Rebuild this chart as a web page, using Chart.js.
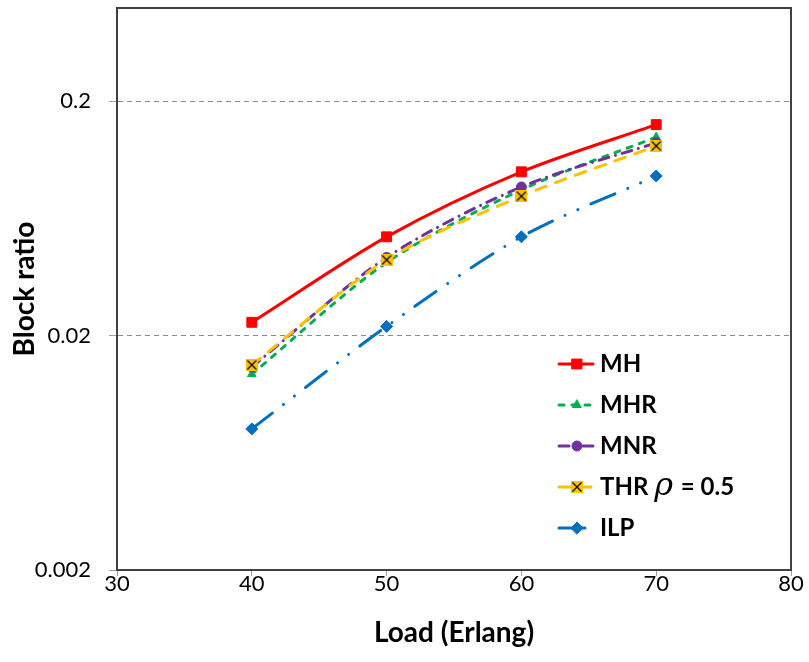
<!DOCTYPE html>
<html>
<head>
<meta charset="utf-8">
<script src="https://cdn.jsdelivr.net/npm/chart.js@4/dist/chart.umd.min.js"></script>
<style>
  html, body { margin: 0; padding: 0; background: #fff; }
</style>
</head>
<body>
<canvas id="myChart" width="809" height="662"></canvas>
<script>
// data
var loads = [40, 50, 60, 70];
var mhValues  = [0.0228, 0.0528, 0.100, 0.159];
var mhrValues = [0.0137, 0.0410, 0.0838, 0.1406];
var mnrValues = [0.0147, 0.0431, 0.0862, 0.133];
var thrValues = [0.0150, 0.0421, 0.0787, 0.129];
var ilpValues = [0.0080, 0.0219, 0.0528, 0.096];
var seriesNames = ['MH', 'MHR', 'MNR', 'THR \u03C1 = 0.5', 'ILP'];
var xTicks = [30, 40, 50, 60, 70, 80];
var yTicks = [0.002, 0.02, 0.2];
var yTickLabels = ['0.002', '0.02', '0.2'];

var FONT = 'Lato, "Open Sans", sans-serif';

function toPoints(values) {
  return loads.map(function(x, i) { return { x: x, y: values[i] }; });
}

// yellow square with a black cross
function makeThrMarker() {
  var c = document.createElement('canvas');
  c.width = 12; c.height = 12;
  var g = c.getContext('2d');
  g.fillStyle = '#FFC000';
  g.fillRect(0, 0, 12, 12);
  g.strokeStyle = '#000';
  g.lineWidth = 1.2;
  g.beginPath();
  g.moveTo(1.5, 1.5); g.lineTo(10.5, 10.5);
  g.moveTo(10.5, 1.5); g.lineTo(1.5, 10.5);
  g.stroke();
  return c;
}

function series(name, values, color, dash, style, radius, order) {
  return {
    label: name,
    data: toPoints(values),
    borderColor: color,
    backgroundColor: color,
    borderWidth: 3,
    borderDash: dash,
    borderCapStyle: 'round',
    pointStyle: style,
    pointRadius: radius,
    pointHoverRadius: radius,
    pointBackgroundColor: color,
    pointBorderColor: color,
    pointBorderWidth: 1,
    tension: 0.3,
    fill: false,
    order: order
  };
}

var thrMarker = makeThrMarker();

var datasets = [
  series(seriesNames[0], mhValues,  '#FF0000', [], 'rect', 7, 5),
  series(seriesNames[1], mhrValues, '#00B050', [5, 8], 'triangle', 5, 4),
  series(seriesNames[2], mnrValues, '#7030A0', [10, 7, 0.01, 7], 'circle', 5, 3),
  series(seriesNames[3], thrValues, '#FFC000', [11, 10], thrMarker, 6, 2),
  series(seriesNames[4], ilpValues, '#0070C0', [26, 14, 0.01, 14, 0.01, 14], 'rectRot', 6, 1)
];
datasets[3].pointBorderColor = '#000';

// top and right edges of the plot box
var plotFrame = {
  id: 'plotFrame',
  beforeDatasetsDraw: function(chart) {
    var a = chart.chartArea, ctx = chart.ctx;
    ctx.save();
    ctx.strokeStyle = '#404040';
    ctx.lineWidth = 2;
    ctx.beginPath();
    ctx.moveTo(a.left, a.top);
    ctx.lineTo(a.right, a.top);
    ctx.lineTo(a.right, a.bottom);
    ctx.stroke();
    ctx.restore();
  }
};

// legend inside the plot, lower right
var insideLegend = {
  id: 'insideLegend',
  afterDatasetsDraw: function(chart) {
    var a = chart.chartArea, ctx = chart.ctx;
    var x0 = a.right - 232, y0 = a.bottom - 206, gap = 41;
    chart.data.datasets.forEach(function(ds, i) {
      var y = y0 + i * gap;
      ctx.save();
      ctx.strokeStyle = ds.borderColor;
      ctx.lineWidth = ds.borderWidth;
      ctx.lineCap = 'round';
      ctx.setLineDash(ds.borderDash);
      ctx.beginPath();
      ctx.moveTo(x0, y);
      ctx.lineTo(x0 + 34, y);
      ctx.stroke();
      ctx.setLineDash([]);
      ctx.fillStyle = ds.pointBackgroundColor;
      ctx.strokeStyle = ds.pointBorderColor;
      ctx.lineWidth = 1;
      Chart.helpers.drawPoint(ctx, {
        pointStyle: ds.pointStyle, radius: ds.pointRadius, borderWidth: 1, rotation: 0
      }, x0 + 18, y);

      ctx.fillStyle = '#000';
      ctx.textBaseline = 'middle';
      ctx.textAlign = 'left';
      var tx = x0 + 41;
      var parts = ds.label.split('\u03C1');
      ctx.font = 'bold 24px ' + FONT;
      ctx.fillText(parts[0], tx, y);
      if (parts.length > 1) {
        tx += ctx.measureText(parts[0]).width;
        ctx.font = 'italic 32px "DejaVu Serif", serif';
        ctx.fillText('\u03C1', tx, y);
        tx += ctx.measureText('\u03C1').width + 2;
        ctx.font = 'bold 24px ' + FONT;
        ctx.fillText(parts[1], tx, y);
      }
      ctx.restore();
    });
  }
};

var ctx = document.getElementById('myChart').getContext('2d');
var chart = new Chart(ctx, {
  type: 'line',
  data: { datasets: datasets },
  plugins: [plotFrame, insideLegend],
  options: {
    responsive: false,
    animation: false,
    devicePixelRatio: 1,
    layout: { padding: { top: 5, right: 18, left: 0, bottom: 0 } },
    plugins: {
      legend: { display: false },
      tooltip: { enabled: false }
    },
    scales: {
      x: {
        type: 'linear',
        min: 30,
        max: 80,
        afterBuildTicks: function(scale) {
          scale.ticks = xTicks.map(function(v) { return { value: v }; });
        },
        afterFit: function(scale) {
          scale.height = 92;
          scale.paddingLeft = 0;
          scale.paddingRight = 0;
        },
        grid: { drawOnChartArea: false, drawTicks: true, tickLength: 6, tickColor: '#a0a0a0', tickWidth: 1 },
        border: { display: true, color: '#404040', width: 2 },
        ticks: {
          color: '#000',
          padding: -3,
          maxRotation: 0,
          font: { family: FONT, size: 22, lineHeight: 1 }
        },
        title: {
          display: true,
          text: 'Load (Erlang)',
          color: '#000',
          font: { family: FONT, size: 28, weight: 'bold', lineHeight: 1.2 },
          padding: { top: 0, bottom: 12 }
        }
      },
      y: {
        type: 'logarithmic',
        min: 0.002,
        max: 0.5,
        afterBuildTicks: function(scale) {
          scale.ticks = yTicks.map(function(v) { return { value: v }; });
        },
        afterFit: function(scale) {
          scale.width = 117;
          scale.paddingTop = 0;
          scale.paddingBottom = 0;
        },
        grid: {
          drawOnChartArea: true,
          drawTicks: true,
          tickLength: 8,
          tickColor: '#a0a0a0',
          tickWidth: 1,
          tickBorderDash: [],
          lineWidth: 1,
          color: function(c) {
            return c.tick && c.tick.value === yTicks[0] ? 'rgba(0,0,0,0)' : '#8c8c8c';
          }
        },
        border: { display: true, color: '#404040', width: 2, dash: [5, 4] },
        ticks: {
          color: '#000',
          padding: 18,
          font: { family: FONT, size: 22 },
          callback: function(v, i) { return yTickLabels[i]; }
        },
        title: {
          display: true,
          text: 'Block ratio',
          color: '#000',
          font: { family: FONT, size: 28, weight: 'bold', lineHeight: 1.2 },
          padding: { top: 8, bottom: 0 }
        }
      }
    }
  }
});
</script>
</body>
</html>
